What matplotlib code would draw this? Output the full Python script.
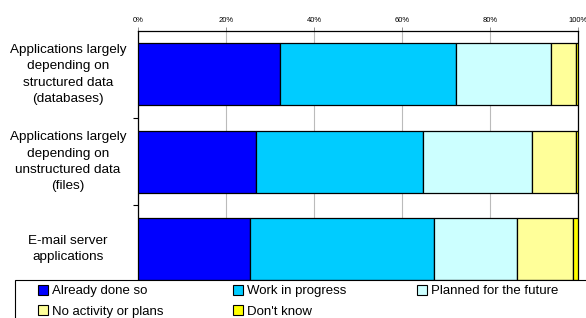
import matplotlib

matplotlib.use("Agg")
import matplotlib.pyplot as plt
from matplotlib.patches import Patch, Rectangle
from matplotlib.transforms import blended_transform_factory

plt.rcParams["font.family"] = ["Liberation Sans", "DejaVu Sans"]

# ── data ─────────────────────────────────────────────────────────────
categories = [
    "Applications largely\ndepending on\nstructured data\n(databases)",
    "Applications largely\ndepending on\nunstructured data\n(files)",
    "E-mail server\napplications",
]
series_names = [
    "Already done so",
    "Work in progress",
    "Planned for the future",
    "No activity or plans",
    "Don't know",
]
already_done = [32.3, 26.8, 25.5]
in_progress = [39.9, 37.9, 41.7]
planned = [21.7, 24.9, 18.9]
no_activity = [5.6, 9.9, 12.7]
dont_know = [0.5, 0.5, 1.2]
x_ticks = [0, 20, 40, 60, 80, 100]

colors = ["#0000FF", "#00CCFF", "#CCFFFF", "#FFFF99", "#FFFF00"]

# ── plot ─────────────────────────────────────────────────────────────
W, H = 586, 318
fig = plt.figure(figsize=(W / 100, H / 100), dpi=100)
ax = fig.add_axes([138 / W, 1 - 280 / H, 440 / W, 249 / H])

ypos = list(range(len(categories)))
left = [0.0] * len(categories)
for name, vals, col in zip(
    series_names,
    [already_done, in_progress, planned, no_activity, dont_know],
    colors,
):
    ax.barh(ypos, vals, left=left, height=0.71, color=col,
            edgecolor="black", linewidth=0.9, label=name, zorder=3)
    left = [l + v for l, v in zip(left, vals)]

ax.set_xlim(0, 100)
ax.set_ylim(2.355, -0.497)

ax.xaxis.tick_top()
ax.set_xticks(x_ticks)
ax.set_xticklabels([f"{t}%" for t in x_ticks], fontsize=5.5)
ax.tick_params(axis="x", length=3, width=0.6, color="#808080", pad=2)
ax.grid(axis="x", color="#BBBBBB", linewidth=0.8, zorder=0)

ax.set_yticks([0.5, 1.5])
ax.set_yticklabels([])
ax.tick_params(axis="y", length=3.5, width=0.8, color="black")

for s in ["top", "left", "right"]:
    ax.spines[s].set_linewidth(0.9)
ax.spines["bottom"].set_visible(False)

trans = blended_transform_factory(fig.transFigure, ax.transData)
for y, lab in zip(ypos, categories):
    ax.text(68 / W, y, lab, transform=trans, ha="center", va="center",
            fontsize=9.7, linespacing=1.47)

# legend box runs off the right and bottom edges in the original
fig.patches.append(Rectangle((15 / W, -0.05), 600 / W, 0.05 + 38 / H,
                             transform=fig.transFigure, facecolor="white",
                             edgecolor="black", linewidth=0.8, zorder=1))

# legend reads row by row in the original: reorder for column-major fill
handles = [Patch(facecolor=c, edgecolor="black", linewidth=0.8) for c in colors]
order = [0, 3, 1, 4, 2]
leg = fig.legend(
    [handles[i] for i in order], [series_names[i] for i in order],
    loc="upper left",
    bbox_to_anchor=(38 / W, 0, 520 / W, 1 - 285 / H),
    mode="expand",
    ncol=3,
    fontsize=9.5,
    frameon=False,
    handlelength=0.75,
    handleheight=0.75,
    handletextpad=0.3,
    borderaxespad=0,
    borderpad=0,
    labelspacing=0.6,
)
leg.set_zorder(2)

fig.savefig("out.png", dpi=100)
